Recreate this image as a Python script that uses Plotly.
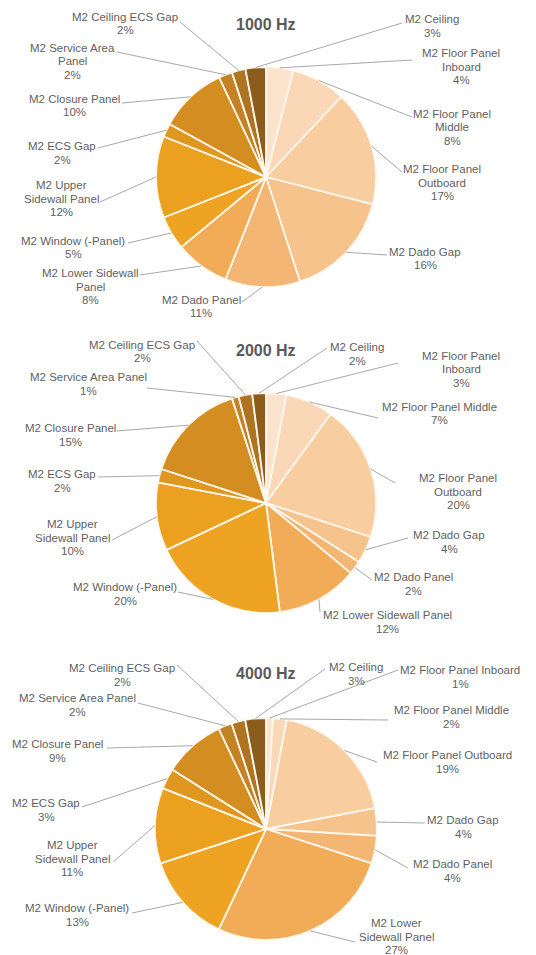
import math
import plotly.graph_objects as go

# ---- data -------------------------------------------------------------
categories = [
    "M2 Floor Panel Inboard", "M2 Floor Panel Middle", "M2 Floor Panel Outboard",
    "M2 Dado Gap", "M2 Dado Panel", "M2 Lower Sidewall Panel", "M2 Window (-Panel)",
    "M2 Upper Sidewall Panel", "M2 ECS Gap", "M2 Closure Panel",
    "M2 Service Area Panel", "M2 Ceiling ECS Gap", "M2 Ceiling",
]
share_1000 = [4, 8, 17, 16, 11, 8, 5, 12, 2, 10, 2, 2, 3]
share_2000 = [3, 7, 20, 4, 2, 12, 20, 10, 2, 15, 1, 2, 2]
share_4000 = [1, 2, 19, 4, 4, 27, 13, 11, 3, 9, 2, 2, 3]
titles = ["1000 Hz", "2000 Hz", "4000 Hz"]

# wrapped label text (one list per chart, "|" marks a line break)
wrap_1000 = [
    "M2 Floor Panel|Inboard", "M2 Floor Panel|Middle", "M2 Floor Panel|Outboard",
    "M2 Dado Gap", "M2 Dado Panel", "M2 Lower Sidewall|Panel", "M2 Window (-Panel)",
    "M2 Upper|Sidewall Panel", "M2 ECS Gap", "M2 Closure Panel",
    "M2 Service Area|Panel", "M2 Ceiling ECS Gap", "M2 Ceiling",
]
wrap_2000 = [
    "M2 Floor Panel|Inboard", "M2 Floor Panel Middle", "M2 Floor Panel|Outboard",
    "M2 Dado Gap", "M2 Dado Panel", "M2 Lower Sidewall Panel", "M2 Window (-Panel)",
    "M2 Upper|Sidewall Panel", "M2 ECS Gap", "M2 Closure Panel",
    "M2 Service Area Panel", "M2 Ceiling ECS Gap", "M2 Ceiling",
]
wrap_4000 = [
    "M2 Floor Panel Inboard", "M2 Floor Panel Middle", "M2 Floor Panel Outboard",
    "M2 Dado Gap", "M2 Dado Panel", "M2 Lower|Sidewall Panel", "M2 Window (-Panel)",
    "M2 Upper|Sidewall Panel", "M2 ECS Gap", "M2 Closure Panel",
    "M2 Service Area Panel", "M2 Ceiling ECS Gap", "M2 Ceiling",
]

# ---- layout / style ---------------------------------------------------
W, H = 536, 955
slice_colors = [
    "#FCE3CD", "#FAD7B6", "#F8CDA0", "#F6C38C", "#F4B674", "#F2AC58", "#EFA322",
    "#ECA01F", "#DF971F", "#D48D21", "#C48224", "#AF7422", "#8C5C1C",
]
# pie centre (px) and radius (px)
pies = [(266, 177, 110), (266, 503, 110), (266, 829, 111)]
title_y = [25, 350, 673]

# label block: (centre x, first-line centre y, leader start x, leader start y)
label_pos = [
    [(461, 53, 412, 60), (452, 114, 412, 117), (442, 169, 402, 172),
     (425, 252, 387, 255), (201, 300, 242, 302), (90, 273, 140, 275),
     (73, 241, 128, 243), (61, 185, 100, 202), (62, 146, 98, 148),
     (74, 99, 122, 103), (72, 48, 117, 52), (125, 17, 180, 22),
     (432, 19, 402, 23)],
    [(461, 356, 398, 363), (439, 407, 378, 418), (458, 478, 395, 483),
     (449, 535, 408, 538), (413, 577, 372, 580), (387, 615, 320, 612),
     (125, 587, 178, 592), (72, 524, 112, 540), (62, 474, 98, 477),
     (70, 428, 117, 431), (88, 377, 147, 388), (142, 345, 197, 341),
     (357, 347, 327, 348)],
    [(460, 670, 398, 670), (451, 710, 388, 720), (447, 755, 377, 762),
     (463, 820, 425, 823), (452, 864, 408, 868), (396, 923, 355, 942),
     (77, 908, 132, 913), (72, 845, 113, 862), (46, 803, 82, 807),
     (57, 744, 107, 748), (77, 698, 138, 703), (122, 668, 177, 665),
     (356, 667, 325, 669)],
]
LINE_STEP = 13.5
FONT = "Liberation Sans, Arial, sans-serif"
TEXT_COLOR = "#5F5F5F"
LEADER_COLOR = "#A8A8A8"


def px(x, y):
    return x / W, 1 - y / H


fig = go.Figure()
annotations = []
shapes = []

for k, (values, wraps) in enumerate(zip([share_1000, share_2000, share_4000],
                                        [wrap_1000, wrap_2000, wrap_4000])):
    cx, cy, r = pies[k]
    fig.add_trace(go.Pie(
        labels=categories,
        values=values,
        sort=False,
        direction="clockwise",
        rotation=0,
        textinfo="none",
        hoverinfo="label+percent",
        showlegend=False,
        marker=dict(colors=slice_colors, line=dict(color="#FFF8EE", width=1.8)),
        domain=dict(x=[(cx - r) / W, (cx + r) / W],
                    y=[1 - (cy + r) / H, 1 - (cy - r) / H]),
    ))

    tx, ty = px(cx, title_y[k])
    annotations.append(dict(
        x=tx, y=ty, xref="paper", yref="paper", showarrow=False,
        text="<b>" + titles[k] + "</b>", xanchor="center", yanchor="middle",
        font=dict(family=FONT, size=16, color="#5A5A5A"),
    ))

    total = sum(values)
    cum = 0
    for i, v in enumerate(values):
        theta = 2 * math.pi * (cum + v / 2) / total
        cum += v
        ex = cx + r * math.sin(theta)
        ey = cy - r * math.cos(theta)
        lx, ly, sx, sy = label_pos[k][i]
        x0, y0 = px(sx, sy)
        x1, y1 = px(ex, ey)
        shapes.append(dict(type="line", xref="paper", yref="paper",
                           x0=x0, y0=y0, x1=x1, y1=y1,
                           line=dict(color=LEADER_COLOR, width=1)))
        lines = wraps[i].split("|") + [f"{v}%"]
        for j, t in enumerate(lines):
            ax, ay = px(lx, ly + j * LINE_STEP)
            annotations.append(dict(
                x=ax, y=ay, xref="paper", yref="paper", showarrow=False,
                text=t, xanchor="center", yanchor="middle",
                font=dict(family=FONT, size=11.5, color=TEXT_COLOR),
            ))

fig.update_layout(
    width=W, height=H,
    margin=dict(l=0, r=0, t=0, b=0),
    paper_bgcolor="white", plot_bgcolor="white",
    annotations=annotations, shapes=shapes,
)
fig.write_html("out.html")
